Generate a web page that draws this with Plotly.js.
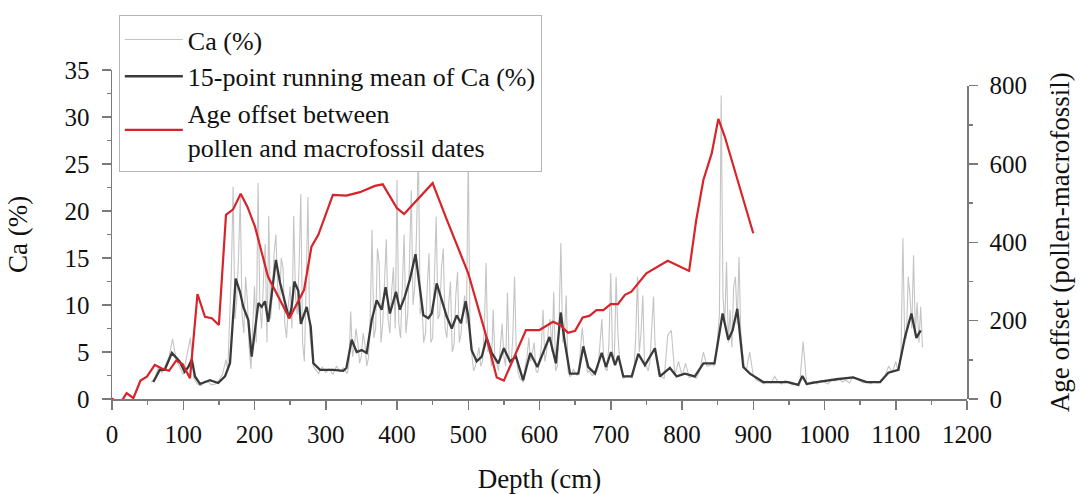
<!DOCTYPE html>
<html><head><meta charset="utf-8">
<script src="https://cdn.plot.ly/plotly-3.0.1.min.js"></script>
<style>html,body{margin:0;padding:0;background:#fff}#chart{width:1081px;height:494px}</style>
</head><body><div id="chart"></div>
<script>
// Raw Ca (%)
const rawDepth = [
 55,60,65,70,75,80,85,90,95,100,
 105,110,115,120,125,130,135,140,145,150,
 155,
 160,162.5,165,167.5,170,172.5,175,177.5,180,182.5,
 185,187.5,190,192.5,195,197.5,200,202.5,205,207.5,
 210,212.5,215,217.5,220,222.5,225,227.5,230,232.5,
 235,237.5,240,242.5,245,247.5,250,252.5,255,257.5,
 260,262.5,265,267.5,270,272.5,275,277.5,280,282.5,
 285,290,295,300,305,310,315,320,325,330,
 332.5,335,337.5,340,342.5,345,347.5,350,352.5,355,
 357.5,360,362.5,365,367.5,370,372.5,375,377.5,380,
 382.5,385,387.5,390,392.5,395,397.5,400,402.5,405,
 407.5,410,412.5,415,417.5,420,422.5,425,427.5,430,
 432.5,435,437.5,440,442.5,445,447.5,450,452.5,455,
 457.5,460,462.5,465,467.5,470,472.5,475,477.5,480,
 482.5,485,487.5,490,492.5,495,497.5,500,502.5,505,
 507.5,510,512.5,515,517.5,520,522.5,525,527.5,530,
 532.5,535,537.5,540,542.5,545,547.5,550,552.5,555,
 557.5,560,562.5,565,567.5,570,572.5,575,577.5,580,
 582.5,585,587.5,590,592.5,595,597.5,600,602.5,605,
 607.5,610,612.5,615,617.5,620,622.5,625,627.5,630,
 632.5,635,637.5,640,642.5,645,647.5,650,652.5,655,
 657.5,660,662.5,665,667.5,670,672.5,675,677.5,680,
 682.5,685,687.5,690,692.5,695,697.5,700,702.5,705,
 707.5,710,712.5,715,717.5,720,722.5,725,727.5,730,
 732.5,735,737.5,740,742.5,745,747.5,750,752.5,755,
 757.5,760,762.5,765,
 770,775,780,785,790,795,800,805,810,815,
 820,825,830,835,840,
 842.5,845,847.5,850,852.5,855,857.5,860,862.5,865,
 867.5,870,872.5,875,877.5,880,882.5,885,887.5,890,
 895,900,905,910,915,920,925,930,935,940,
 945,950,955,960,965,970,975,980,985,990,
 995,1000,1005,1010,1015,1020,1025,1030,1035,1040,
 1045,1050,1055,1060,1065,1070,1075,1080,1085,1090,
 1095,
 1100,1102.5,1105,1107.5,1110,1112.5,1115,1117.5,1120,1122.5,
 1125,1127.5,1130,1132.5,1135,1137.5
];
const rawCa = [
 1.8,2.2,3.3,2.8,3.6,4.5,6.4,4.2,3.4,2.6,
 4.6,6.5,2.2,1.6,1.4,1.9,1.8,1.5,1.6,2.0,
 2.6,
 4.2,3.0,9.0,13.5,22.6,8.5,10.5,15.0,21.5,9.0,
 7.0,13.0,10.5,5.5,3.2,8.0,12.0,6.0,23.0,10.0,
 7.5,12.5,16.5,6.0,19.5,8.5,11.0,15.5,17.5,12.0,
 9.5,15.0,14.0,8.0,6.5,10.0,12.0,7.5,19.5,11.0,
 9.0,14.0,21.8,6.0,4.0,12.0,21.5,7.0,5.0,3.5,
 3.2,2.7,3.4,2.8,3.2,2.6,3.5,2.9,3.3,2.7,
 3.6,9.3,4.5,5.5,7.5,6.0,3.8,4.6,7.0,5.8,
 3.5,4.4,9.0,18.0,6.5,7.5,16.0,14.5,6.0,8.0,
 12.5,17.0,8.5,7.0,11.5,14.0,7.5,23.3,8.0,6.5,
 12.0,17.5,7.0,9.0,14.5,22.2,10.0,12.0,18.0,26.5,
 9.0,10.0,6.0,7.0,12.0,15.5,6.0,6.5,13.0,19.4,
 8.5,9.0,14.0,16.0,7.5,6.5,10.0,12.5,5.0,5.8,
 11.0,13.5,6.0,7.0,9.5,11.0,8.0,26.5,6.5,4.5,
 3.0,3.5,4.5,5.5,3.5,4.0,7.5,14.5,5.0,5.5,
 3.5,9.5,4.0,3.8,3.0,6.0,8.0,4.5,3.5,11.3,
 4.0,3.5,6.5,13.0,4.5,2.8,2.2,2.0,1.8,3.5,
 4.5,6.5,4.0,5.0,6.0,3.0,2.8,4.0,5.5,9.5,
 4.0,5.0,7.5,8.5,5.0,11.4,3.0,3.5,8.5,16.6,
 6.0,7.0,11.0,3.0,2.4,2.5,3.2,2.8,2.5,3.0,
 5.0,7.6,5.5,4.0,2.8,3.0,2.6,2.5,3.0,3.0,
 3.5,6.0,8.5,4.5,3.2,3.0,6.0,13.4,5.0,4.0,
 13.0,7.0,4.0,3.0,2.2,2.3,2.5,2.5,2.4,2.2,
 3.0,6.5,13.0,5.0,7.0,11.0,3.5,3.5,3.0,4.0,
 7.0,10.9,5.0,4.5,
 2.4,2.2,6.8,7.3,2.5,4.0,2.5,3.8,2.3,2.4,
 2.2,3.0,5.0,3.5,3.6,
 3.8,3.5,4.5,6.5,9.0,32.3,11.0,8.0,14.6,6.0,
 9.5,5.5,12.0,13.0,8.0,15.1,7.0,5.0,3.5,3.0,
 5.0,2.5,2.0,1.8,1.6,1.9,1.7,2.4,1.8,1.6,
 2.0,1.7,1.5,1.6,1.4,6.1,1.5,1.7,1.9,1.6,
 2.0,1.8,1.6,2.1,1.9,2.2,1.8,2.0,1.7,2.4,
 2.1,1.9,1.7,1.8,1.6,1.9,1.7,1.9,2.5,3.5,
 2.8,
 4.0,3.2,3.0,5.5,17.1,6.5,6.5,13.0,11.0,7.5,
 15.3,7.0,10.3,6.0,9.8,5.5
];
// 15-point running mean of Ca (%)
const meanDepth = [
 58,67,74,84,95,102,107,112,116.5,123.5,
 137.5,149,158.6,165.6,173.6,179.6,184.3,191.3,196,200.7,
 205.4,210,214.7,219.4,224,230,235.8,242.8,248.4,252.2,
 255.9,261.5,265,273.2,278.9,282.6,292,310.6,324.6,329,
 336.4,343.4,350.4,357.5,364.5,371.5,378.5,384,390,398.6,
 404,411,418,426,432,437,444,448.7,455.7,462.7,
 469.7,476.8,483.8,489.8,496.4,500,504.8,511.8,518.9,525.9,
 532.9,542.2,550,558.6,567,577,587,597,605,614,
 623,629.7,635.8,642.8,654.5,661.5,668.5,677.9,687.3,693.3,
 700.4,706,710.6,717.6,729.4,738.7,748,762,769,783,
 792.5,804,818,830,845.6,857,865,871,877.6,886,
 895.4,914,933,949,963,969,975,989,1017,1040,
 1059,1078,1089.6,1103.6,1113,1122,1129,1135
];
const meanCa = [
 1.8,3.1,3.1,4.9,4.0,2.9,3.4,4.2,2.4,1.6,
 2.0,1.7,2.4,3.8,12.8,11.4,9.8,8.4,4.5,7.3,
 10.2,9.8,10.4,8.2,11.2,14.8,12.4,10.2,8.6,9.8,
 12.5,11.5,8.0,9.8,7.7,3.8,3.1,3.1,3.0,3.3,
 6.3,5.0,5.2,4.9,8.4,10.5,9.5,11.9,9.1,11.4,
 9.5,10.9,12.7,15.4,11.6,8.9,8.6,9.1,12.3,10.5,
 8.8,7.5,8.9,8.05,10.4,8.8,5.2,4.0,4.5,6.5,
 4.9,3.8,5.4,4.0,4.5,2.0,4.9,3.4,4.9,6.6,
 3.8,9.2,5.9,2.7,2.7,5.6,3.4,2.7,4.9,3.4,
 5.0,3.6,4.6,2.4,2.4,4.8,3.6,5.4,2.4,3.3,
 2.4,2.7,2.4,3.8,3.8,9.1,6.3,7.3,9.6,3.4,
 2.7,1.8,1.8,1.8,1.5,2.45,1.6,1.8,2.1,2.3,
 1.8,1.8,2.8,3.1,6.6,9.1,6.5,7.3
];
// Age offset between pollen and macrofossil dates
const ageDepth = [
 0,10,20.6,30,40,49,60,70,80,90,
 99,109.5,120,130.5,140,150,160,170,180.6,190,
 200.7,210,219,249,269.5,280,289.6,310,329,348,
 369,380,400,410,430,450,470,500,523.5,540,
 550,581,600,619,629,640,650,660.6,670,680,
 689.6,700,710,720,729,750,780,810,820,830,
 841.7,851,860,900
];
const ageOffset = [
 2,-15,15,2,47,57,87,78,72,98,
 89,53,268,210,206,189,470,484,524,491,
 440,372,312,206,278,389,419,521,519,528,
 544,548,487,472,512,551,457,321,172,55,
 47,176,176,197,189,169,174,208,212,227,
 227,242,242,266,274,321,353,327,457,559,
 627,715,670,423
];
const seriesNames = ['Ca (%)','15-point running mean of Ca (%)','Age offset between<br>pollen and macrofossil dates'];

const axisGrey = '#7a7a7a';
const fontFam = "'Liberation Serif', 'Times New Roman', serif";
const tickSize = 25, legendSize = 26, titleSize = 27;

const traces = [
 {x: rawDepth, y: rawCa, name: seriesNames[0], type:'scatter', mode:'lines',
  line:{color:'#c4c4c4', width:1.1}, xaxis:'x', yaxis:'y', hoverinfo:'skip'},
 {x: meanDepth, y: meanCa, name: seriesNames[1], type:'scatter', mode:'lines',
  line:{color:'#3a3a3a', width:2.3}, xaxis:'x', yaxis:'y', hoverinfo:'skip'},
 {x: ageDepth, y: ageOffset, name: seriesNames[2], type:'scatter', mode:'lines',
  line:{color:'#d8232a', width:2.2}, xaxis:'x', yaxis:'y2', hoverinfo:'skip'}
];

const commonAxis = {
 ticks:'outside', ticklen:9, tickwidth:1.5, tickcolor:axisGrey,
 showline:true, linecolor:axisGrey, linewidth:1.5,
 showgrid:false, zeroline:false, tickfont:{family:fontFam, size:tickSize, color:'#111'}
};

const layout = {
 width:1081, height:494,
 margin:{l:112, r:114, t:70, b:95},
 paper_bgcolor:'#ffffff', plot_bgcolor:'rgba(0,0,0,0)',
 font:{family:fontFam, size:tickSize, color:'#111'},
 showlegend:true,
 legend:{x:0.008, y:1.167, xanchor:'left', yanchor:'top', bgcolor:'#ffffff',
  bordercolor:'#b5b5b5', borderwidth:1, font:{family:fontFam, size:legendSize, color:'#111'}, itemwidth:58, tracegroupgap:0},
 xaxis:Object.assign({}, commonAxis, {
  range:[0,1200], tick0:0, dtick:100, anchor:'y', ticklabelstandoff:3,
  minor:{dtick:50, ticks:'outside', ticklen:4, tickwidth:1.5, tickcolor:axisGrey, showgrid:false},
  title:{text:'Depth (cm)', font:{family:fontFam, size:titleSize}, standoff:23}
 }),
 yaxis:Object.assign({}, commonAxis, {
  range:[0,35], tick0:0, dtick:5, anchor:'x', ticklabelstandoff:7,
  minor:{dtick:2.5, ticks:'outside', ticklen:4, tickwidth:1.5, tickcolor:axisGrey, showgrid:false},
  title:{text:'Ca (%)', font:{family:fontFam, size:titleSize}, standoff:29}
 }),
 yaxis2:Object.assign({}, commonAxis, {
  range:[0,800], tick0:0, dtick:200, anchor:'x', side:'right', domain:[0,0.9526], ticklabelstandoff:7,
  minor:{dtick:100, ticks:'outside', ticklen:4, tickwidth:1.5, tickcolor:axisGrey, showgrid:false},
  title:{text:'Age offset (pollen-macrofossil)', font:{family:fontFam, size:titleSize}, standoff:24}
 })
};

Plotly.newPlot('chart', traces, layout, {displayModeBar:false, staticPlot:true});
</script>
</body></html>
